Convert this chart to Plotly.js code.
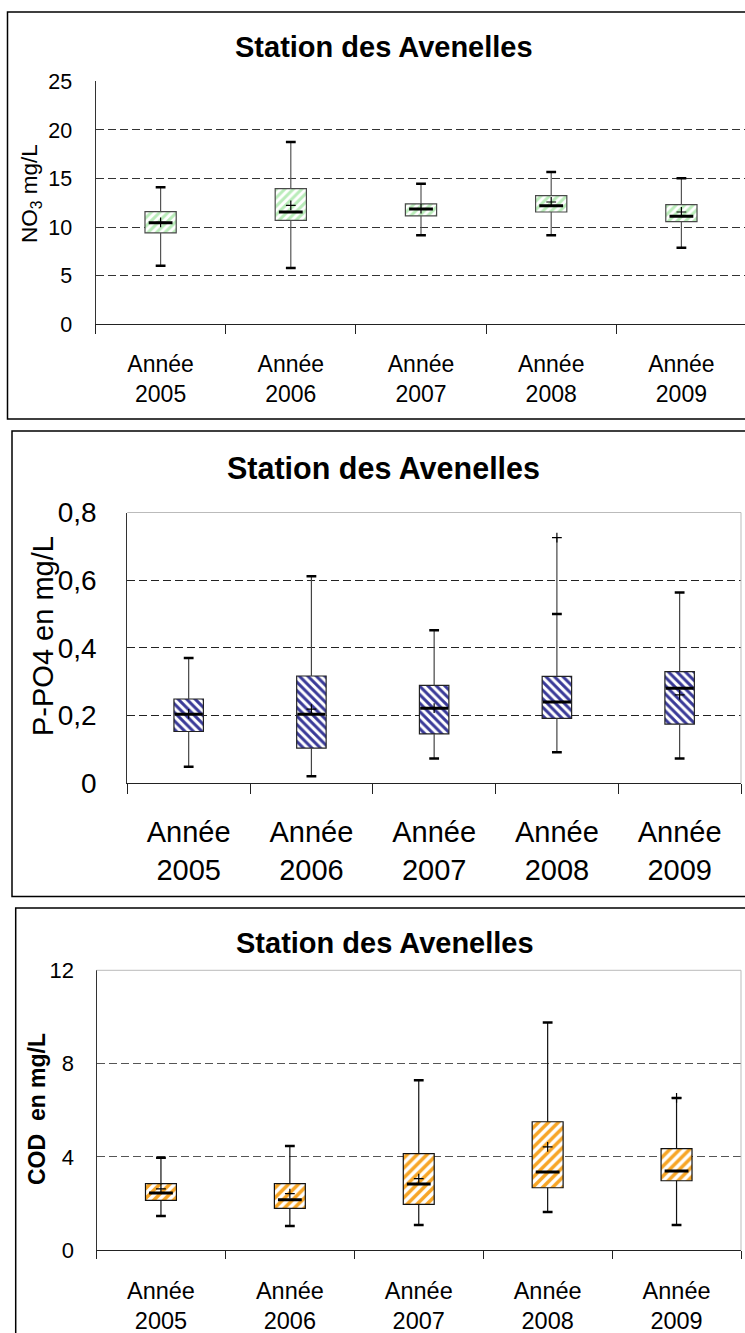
<!DOCTYPE html>
<html>
<head>
<meta charset="utf-8">
<script src="https://cdn.plot.ly/plotly-3.0.1.min.js"></script>
<style>
html,body{margin:0;padding:0;overflow:hidden;background:#fff;}
#chart{width:760px;height:1333px;}
</style>
</head>
<body>
<div id="chart"></div>
<script>
// ---------- DATA ----------
const categories = ['Année<br>2005', 'Année<br>2006', 'Année<br>2007', 'Année<br>2008', 'Année<br>2009'];

// NO3 (mg/L)
const no3Q1     = [9.40, 10.70, 11.15, 11.56, 10.56];
const no3Median = [10.46, 11.56, 11.87, 12.21, 11.12];
const no3Q3     = [11.60, 13.96, 12.40, 13.24, 12.31];
const no3Low    = [6.03, 5.80, 9.16, 9.16, 7.88];
const no3High   = [14.10, 18.77, 14.47, 15.68, 15.03];
const no3Mean   = [10.50, 12.25, 11.90, 12.59, 11.56];
const no3Max    = [null, null, null, null, null];

// P-PO4 (mg/L)
const po4Q1     = [0.153, 0.104, 0.146, 0.192, 0.175];
const po4Median = [0.204, 0.204, 0.222, 0.240, 0.281];
const po4Q3     = [0.249, 0.317, 0.289, 0.316, 0.330];
const po4Low    = [0.049, 0.021, 0.073, 0.092, 0.073];
const po4High   = [0.370, 0.612, 0.452, 0.500, 0.564];
const po4Mean   = [0.205, 0.219, 0.222, null, 0.261];
const po4Max    = [null, null, null, 0.726, null];

// COD (mg/L)
const codQ1     = [2.14, 1.80, 1.97, 2.68, 2.98];
const codMedian = [2.455, 2.17, 2.84, 3.36, 3.40];
const codQ3     = [2.855, 2.855, 4.14, 5.51, 4.36];
const codLow    = [1.47, 1.04, 1.085, 1.64, 1.085];
const codHigh   = [3.97, 4.47, 7.29, 9.76, 6.53];
const codMean   = [2.63, 2.43, 3.07, 4.43, null];
const codMax    = [null, null, null, null, 6.53];

const chartTitle = 'Station des Avenelles';

// ---------- LAYOUT HELPERS ----------
const W = 760, H = 1333;
const fx = p => p / W;
const fy = p => 1 - p / H;
const FONT = 'Liberation Sans, Arial, Helvetica, sans-serif';

function boxTraces(xa, ya, q1, med, q3, lo, hi, mean, mx, st) {
  const stemX = [], stemY = [];
  categories.forEach((c, i) => {
    const top = (mx[i] != null && mx[i] > hi[i]) ? mx[i] : hi[i];
    stemX.push(c, c, null, c, c, null);
    stemY.push(q3[i], top, null, lo[i], q1[i], null);
  });
  const common = {xaxis: xa, yaxis: ya, showlegend: false, hoverinfo: 'skip'};
  return [
    Object.assign({
      type: 'bar', x: categories, base: q1, y: q3.map((v, i) => v - q1[i]), width: 0.24,
      marker: {color: st.fg, line: {color: st.border, width: 1.2},
               pattern: {shape: st.shape, fgcolor: st.fg, bgcolor: '#ffffff', size: st.size, solidity: st.solidity}}
    }, common),
    Object.assign({type: 'scatter', mode: 'lines', x: stemX, y: stemY,
      line: {color: st.stem, width: 1.2}}, common),
    Object.assign({type: 'scatter', mode: 'markers', x: categories.concat(categories), y: hi.concat(lo),
      marker: {symbol: 'line-ew', size: 7, color: '#000', line: {color: '#000', width: 2.5}}}, common),
    Object.assign({type: 'scatter', mode: 'markers', x: categories, y: med,
      marker: {symbol: 'line-ew', size: st.medSize, color: '#000', line: {color: '#000', width: 3}}}, common),
    Object.assign({type: 'scatter', mode: 'markers', x: categories, y: mean,
      marker: {symbol: 'cross-thin', size: 7, color: '#000', line: {color: '#000', width: 1.2}}}, common),
    Object.assign({type: 'scatter', mode: 'markers', x: categories, y: mx,
      marker: {symbol: 'cross-thin', size: 7, color: '#000', line: {color: '#000', width: 1.2}}}, common)
  ];
}

const data = [].concat(
  boxTraces('x', 'y', no3Q1, no3Median, no3Q3, no3Low, no3High, no3Mean, no3Max,
    {fg: '#b9ecb9', border: '#4a4a4a', stem: '#555', shape: '/', size: 6, solidity: 0.5, medSize: 17}),
  boxTraces('x2', 'y2', po4Q1, po4Median, po4Q3, po4Low, po4High, po4Mean, po4Max,
    {fg: '#3a3a98', border: '#222', stem: '#444', shape: '\\', size: 6, solidity: 0.5, medSize: 20}),
  boxTraces('x3', 'y3', codQ1, codMedian, codQ3, codLow, codHigh, codMean, codMax,
    {fg: '#f7a526', border: '#111', stem: '#111', shape: '/', size: 7, solidity: 0.5, medSize: 17})
);

function xAxis(dom, anchor, size, tlen, standoff) {
  return {domain: dom, anchor: anchor, type: 'category', categoryarray: categories,
    range: [-0.5, 4.5], tickson: 'boundaries', ticks: 'outside', ticklen: tlen, tickwidth: 1,
    tickcolor: '#222', showline: true, linecolor: '#222', linewidth: 1, showgrid: false,
    zeroline: false, tickfont: {family: FONT, size: size, color: '#000'},
    ticklabelstandoff: standoff, fixedrange: true};
}
function yAxis(dom, anchor, range, dtick, size, standoff, gridcolor) {
  return {domain: dom, anchor: anchor, range: range, dtick: dtick, tick0: 0, ticks: '',
    showline: true, linecolor: '#333', linewidth: 1, showgrid: true, gridcolor: gridcolor,
    gridwidth: 1, griddash: '8px,4px', zeroline: false,
    tickfont: {family: FONT, size: size, color: '#000'}, ticklabelstandoff: standoff, fixedrange: true};
}

const layout = {
  width: W, height: H, margin: {l: 0, r: 0, t: 0, b: 0},
  paper_bgcolor: '#fff', plot_bgcolor: '#fff', showlegend: false, separators: ', ',
  font: {family: FONT, color: '#000'},
  xaxis:  xAxis([fx(95.5), fx(746.5)], 'y', 23, 9, 19),
  yaxis:  yAxis([fy(324.3), fy(81.4)], 'x', [0, 25], 5, 21.5, 18, '#333'),
  xaxis2: xAxis([fx(127.3), fx(741)], 'y2', 29, 10, 23),
  yaxis2: yAxis([fy(783.3), fy(512.5)], 'x2', [0, 0.8], 0.2, 28, 24, '#222'),
  xaxis3: xAxis([fx(96.5), fx(741)], 'y3', 23.5, 8, 19),
  yaxis3: yAxis([fy(1250.3), fy(970.3)], 'x3', [0, 12], 4, 22, 17, '#555'),
  shapes: [
    {type: 'rect', xref: 'paper', yref: 'paper', x0: fx(7.5), x1: fx(780), y0: fy(419), y1: fy(12), line: {color: '#000', width: 1.5}},
    {type: 'rect', xref: 'paper', yref: 'paper', x0: fx(12), x1: fx(780), y0: fy(896.5), y1: fy(431), line: {color: '#000', width: 1.5}},
    {type: 'rect', xref: 'paper', yref: 'paper', x0: fx(15.7), x1: fx(780), y0: fy(1345), y1: fy(908), line: {color: '#000', width: 1.5}},
    {type: 'line', xref: 'x2 domain', yref: 'y2 domain', x0: 0, x1: 1, y0: 1, y1: 1, line: {color: '#bbb', width: 1}},
    {type: 'line', xref: 'x2 domain', yref: 'y2 domain', x0: 1, x1: 1, y0: 0, y1: 1, line: {color: '#bbb', width: 1}},
    {type: 'line', xref: 'x3 domain', yref: 'y3 domain', x0: 0, x1: 1, y0: 1, y1: 1, line: {color: '#bbb', width: 1}},
    {type: 'line', xref: 'x3 domain', yref: 'y3 domain', x0: 1, x1: 1, y0: 0, y1: 1, line: {color: '#bbb', width: 1}}
  ],
  annotations: [
    {xref: 'paper', yref: 'paper', x: fx(383.6), y: fy(46.7), xanchor: 'center', yanchor: 'middle', showarrow: false,
     text: '<b>' + chartTitle + '</b>', font: {family: FONT, size: 29, color: '#000'}},
    {xref: 'paper', yref: 'paper', x: fx(383.6), y: fy(468.3), xanchor: 'center', yanchor: 'middle', showarrow: false,
     text: '<b>' + chartTitle + '</b>', font: {family: FONT, size: 30.5, color: '#000'}},
    {xref: 'paper', yref: 'paper', x: fx(384.6), y: fy(943.3), xanchor: 'center', yanchor: 'middle', showarrow: false,
     text: '<b>' + chartTitle + '</b>', font: {family: FONT, size: 29, color: '#000'}},
    {xref: 'paper', yref: 'paper', x: fx(31), y: fy(194), xanchor: 'center', yanchor: 'middle', showarrow: false,
     textangle: -90, text: 'NO<sub>3</sub> mg/L', font: {family: FONT, size: 22.5, color: '#000'}},
    {xref: 'paper', yref: 'paper', x: fx(43), y: fy(636), xanchor: 'center', yanchor: 'middle', showarrow: false,
     textangle: -90, text: 'P-PO4 en mg/L', font: {family: FONT, size: 29, color: '#000'}},
    {xref: 'paper', yref: 'paper', x: fx(37), y: fy(1109), xanchor: 'center', yanchor: 'middle', showarrow: false,
     textangle: -90, text: '<b>COD\u00A0 en mg/L</b>', font: {family: FONT, size: 23, color: '#000'}}
  ]
};

Plotly.newPlot('chart', data, layout, {staticPlot: true, displayModeBar: false});
</script>
</body>
</html>
